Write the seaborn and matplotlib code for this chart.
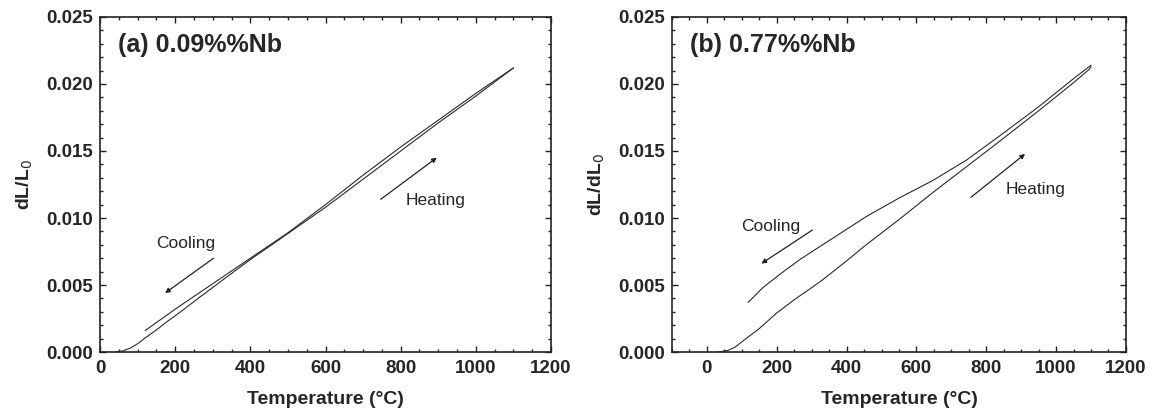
import numpy as np
import pandas as pd
import matplotlib
matplotlib.use("Agg")
import matplotlib.pyplot as plt
from matplotlib.ticker import MultipleLocator
import seaborn as sns

# (a) 0.09%Nb dilatometry: heating and cooling branches
a_heat_T = [40, 60, 80, 100, 120, 150, 178, 220, 267, 330, 400, 480, 600, 700, 800, 900, 1000, 1100]
a_heat_v = [0.0, 0.00008, 0.00028, 0.00062, 0.00105, 0.00165, 0.00226, 0.00312, 0.00413, 0.00545,
            0.0069, 0.00845, 0.0108, 0.0129, 0.0150, 0.0171, 0.0191, 0.0212]
a_cool_T = [1100, 1000, 900, 800, 700, 600, 500, 400, 300, 200, 120]
a_cool_v = [0.0212, 0.0193, 0.0173, 0.0153, 0.0132, 0.0110, 0.0089, 0.0070, 0.0051, 0.0032, 0.0016]

# (b) 0.77%Nb dilatometry: heating and cooling branches
b_heat_T = [32, 60, 80, 113, 150, 199, 250, 300, 332, 400, 456, 551, 647, 742, 837, 950, 1050, 1095, 1100]
b_heat_v = [0.0, 0.00012, 0.00035, 0.00102, 0.00175, 0.00289, 0.0039, 0.0048, 0.0054, 0.0068,
            0.0080, 0.0099, 0.0119, 0.0138, 0.0157, 0.0180, 0.0201, 0.0211, 0.0213]
b_cool_T = [1100, 1050, 950, 837, 742, 647, 551, 456, 361, 266, 209, 160, 118]
b_cool_v = [0.0214, 0.0204, 0.0183, 0.0161, 0.0143, 0.0128, 0.0115, 0.0101, 0.0085, 0.0069,
            0.0058, 0.0048, 0.0037]

panels = [
    dict(tag="(a) 0.09%%Nb", ylabel="dL/L$_0$", xlim=(0, 1200),
         heat=(a_heat_T, a_heat_v), cool=(a_cool_T, a_cool_v),
         cool_arrow=((302, 0.0070), (173, 0.0044)), cool_text=(229, 0.0081),
         heat_arrow=((747, 0.0114), (896, 0.0145)), heat_text=(893, 0.0113)),
    dict(tag="(b) 0.77%%Nb", ylabel="dL/dL$_0$", xlim=(-100, 1200),
         heat=(b_heat_T, b_heat_v), cool=(b_cool_T, b_cool_v),
         cool_arrow=((302, 0.0091), (156, 0.0066)), cool_text=(182, 0.0094),
         heat_arrow=((756, 0.01154), (911, 0.01478)), heat_text=(942, 0.0121)),
]

sns.set_style("ticks")
plt.rcParams["font.family"] = ["Liberation Sans", "DejaVu Sans"]

fig = plt.figure(figsize=(11.54, 4.16), dpi=100)
rects = [[0.0867, 0.1538, 0.3908, 0.8054], [0.5823, 0.1538, 0.3934, 0.8054]]

for rect, p in zip(rects, panels):
    ax = fig.add_axes(rect)
    df = pd.concat([
        pd.DataFrame({"T": p["heat"][0], "v": p["heat"][1], "branch": "heat"}),
        pd.DataFrame({"T": p["cool"][0], "v": p["cool"][1], "branch": "cool"}),
    ], ignore_index=True)
    sns.lineplot(data=df, x="T", y="v", units="branch", estimator=None, sort=False,
                 color="#2a2a2a", linewidth=0.8, ax=ax, legend=False)

    ax.set_xlim(*p["xlim"])
    ax.set_ylim(0, 0.025)
    ax.xaxis.set_major_locator(MultipleLocator(200))
    ax.xaxis.set_minor_locator(MultipleLocator(50))
    ax.yaxis.set_major_locator(MultipleLocator(0.005))
    ax.yaxis.set_minor_locator(MultipleLocator(0.001))
    ax.yaxis.set_major_formatter(plt.FormatStrFormatter("%.3f"))
    ax.tick_params(which="both", direction="in", top=True, right=True,
                   labeltop=False, labelright=False, width=1.0, color="#222222")
    ax.tick_params(which="major", length=4.5, labelsize=13.5)
    ax.tick_params(axis="x", which="major", pad=6)
    ax.tick_params(axis="y", which="major", pad=5)
    ax.tick_params(which="minor", length=2.5)
    for lab in ax.get_xticklabels() + ax.get_yticklabels():
        lab.set_fontweight("bold")
    for s in ax.spines.values():
        s.set_visible(True)
        s.set_linewidth(1.2)
        s.set_color("#222222")

    ax.set_xlabel("Temperature (°C)", fontsize=14, fontweight="bold", labelpad=10)
    ax.set_ylabel(p["ylabel"], fontsize=14, fontweight="bold", labelpad=8)

    ax.text(0.04, 0.916, p["tag"], transform=ax.transAxes,
            fontsize=18, fontweight="bold", va="center", ha="left")

    (x0, y0), (x1, y1) = p["cool_arrow"]
    ax.annotate("", xy=(x1, y1), xytext=(x0, y0),
                arrowprops=dict(arrowstyle="-|>", color="#222222", lw=0.9,
                                mutation_scale=7, shrinkA=0, shrinkB=0))
    ax.text(*p["cool_text"], "Cooling", fontsize=12.5, ha="center", va="center")
    (x0, y0), (x1, y1) = p["heat_arrow"]
    ax.annotate("", xy=(x1, y1), xytext=(x0, y0),
                arrowprops=dict(arrowstyle="-|>", color="#222222", lw=0.9,
                                mutation_scale=7, shrinkA=0, shrinkB=0))
    ax.text(*p["heat_text"], "Heating", fontsize=12.5, ha="center", va="center")

fig.savefig("out.png", dpi=100, facecolor="white")
